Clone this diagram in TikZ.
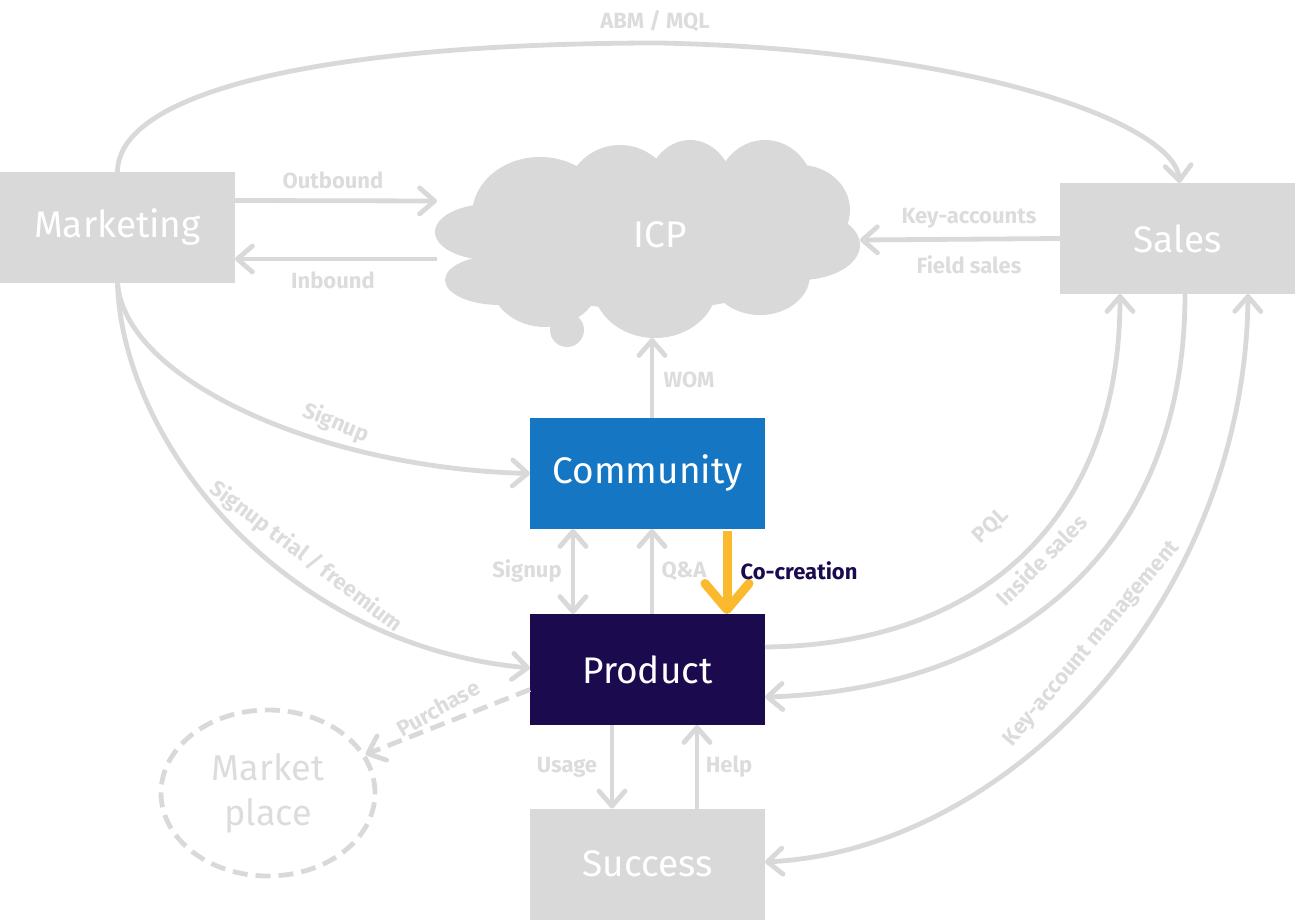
\documentclass[tikz,border=0pt]{standalone}
\usepackage{fontspec}
\setmainfont{Fira Sans}
\usetikzlibrary{arrows.meta,calc,shapes.geometric}
\definecolor{boxgrey}{HTML}{D9D9D9}
\definecolor{linegrey}{HTML}{D9D9D9}
\definecolor{labgrey}{HTML}{DCDCDC}
\definecolor{combl}{HTML}{1576C4}
\definecolor{prodnavy}{HTML}{1C0A4F}
\definecolor{cocol}{HTML}{FBBA2D}
\begin{document}
\begin{tikzpicture}[x=1pt,y=-1pt,
  box/.style={rectangle, minimum width=235pt, minimum height=111pt, inner sep=0pt, outer sep=0pt, text=white, font=\fontsize{37}{40}\selectfont},
  barb/.tip={Straight Barb[length=15pt,width=26pt,round]},
  conn/.style={draw=linegrey, line width=4.8pt, -barb},
  lab/.style={text=labgrey, font=\bfseries\fontsize{22}{24}\selectfont, inner sep=0pt},
]
\useasboundingbox (0,0) rectangle (1295,920);

% cloud
\begin{scope}[fill=boxgrey]
  \fill (490,232) ellipse [x radius=55, y radius=28];
  \fill (500,280) ellipse [x radius=55, y radius=25];
  \fill (540,215) ellipse [x radius=68, y radius=58];
  \fill (620,200) ellipse [x radius=55, y radius=55];
  \fill (690,195) ellipse [x radius=45, y radius=55];
  \fill (765,195) ellipse [x radius=50, y radius=55];
  \fill (800,210) ellipse [x radius=50, y radius=45];
  \fill (800,245) ellipse [x radius=60, y radius=35];
  \fill (760,275) ellipse [x radius=50, y radius=40];
  \fill (655,285) ellipse [x radius=62, y radius=53];
  \fill (545,280) ellipse [x radius=55, y radius=47];
  \fill (567,330) circle [radius=17];
  \fill (650,240) ellipse [x radius=170, y radius=70];
\end{scope}
\node[text=white, font=\fontsize{37}{40}\selectfont, inner sep=0pt] (icp) at (660,235) {ICP};
\coordinate (icpin) at (437,201);
\coordinate (icpout) at (437,259);
\coordinate (icpR) at (860,240);
\coordinate (icpB) at (652,338);

% boxes
\node[box, fill=boxgrey] (mkt) at (117.5,227.5) {Marketing};
\node[box, fill=boxgrey] (sales) at (1177.5,238.5) {Sales};
\node[box, fill=combl] (com) at (647.5,473.5) {Community};
\node[box, fill=prodnavy] (prod) at (647.5,669.5) {Product};
\node[box, fill=boxgrey] (succ) at (647.5,864) {Success};
\node[ellipse, draw=linegrey, line width=4.8pt, dash pattern=on 15pt off 8pt,
      minimum width=214pt, minimum height=166pt, inner sep=0pt, text=labgrey,
      align=center, font=\fontsize{36}{45}\selectfont] (mp) at (268,793) {Market\\place};

% connectors
\draw[conn] (mkt.north) .. controls (118,90) and (330,43) .. (660,43)
   .. controls (980,50) and (1175,125) .. ($(sales.north)+(2,0)$);
\draw[conn] ($(mkt.east)+(0,-27)$) -- (icpin);
\draw[conn] (icpout) -- ($(mkt.east)+(0,31.5)$);
\draw[conn] (sales.west) -- (icpR);
\draw[conn] ($(com.north)+(4.5,0)$) -- (icpB);
\draw[conn] (mkt.south) .. controls (125,380) and (320,468) .. (com.west);
\draw[conn] (mkt.south) .. controls (122,440) and (280,645) .. ($(prod.west)+(0,-1.5)$);
\draw[conn, barb-barb] ($(com.south)+(-74.5,0)$) -- ($(prod.north)+(-74.5,0)$);
\draw[conn] ($(prod.north)+(4.5,0)$) -- ($(com.south)+(4.5,0)$);
\draw[draw=cocol, line width=9pt, -{Straight Barb[length=26pt,width=44pt,round]}]
   ($(com.south)+(79.5,2)$) -- ($(prod.north)+(79.5,0)$);
\draw[conn] ($(prod.east)+(0,-22.5)$) .. controls (980,645) and (1120,520) .. ($(sales.south)+(-57.5,0)$);
\draw[conn] ($(sales.south)+(7.5,0)$) .. controls (1185,560) and (1000,690) .. ($(prod.east)+(0,27.5)$);
\draw[conn, barb-barb] ($(sales.south)+(70.5,0)$) .. controls (1245,600) and (1010,850) .. ($(succ.east)+(0,-2)$);
\draw[conn, dash pattern=on 15pt off 8pt] ($(prod.west)+(0,20)$) -- (mp);
\draw[conn] ($(prod.south)+(-35.5,0)$) -- ($(succ.north)+(-35.5,0)$);
\draw[conn] ($(succ.north)+(49.5,0)$) -- ($(prod.south)+(49.5,0)$);

% labels
\node[lab] (l1) at (655,21) {ABM / MQL};
\node[lab] (l2) at (333,180) {Outbound};
\node[lab] (l3) at (333,280) {Inbound};
\node[lab] (l4) at (969,218) {Key-accounts};
\node[lab] (l5) at (969,265) {Field sales};
\node[lab] (l6) at (689,380) {WOM};
\node[lab, rotate=-22] (l7) at (336,423) {Signup};
\node[lab, rotate=-37] (l8) at (306,557) {Signup trial / freemium};
\node[lab] (l9) at (527,571) {Signup};
\node[lab] (l10) at (684,571) {Q\&A};
\node[lab, text=prodnavy] (l11) at (799,571) {Co-creation};
\node[lab, rotate=43] (l12) at (991,526) {PQL};
\node[lab, rotate=45] (l13) at (1041,560) {Inside sales};
\node[lab, rotate=50] (l14) at (1092,644) {Key-account management};
\node[lab, rotate=29] (l15) at (438,708) {Purchase};
\node[lab] (l16) at (567,767) {Usage};
\node[lab] (l17) at (729,767) {Help};
\end{tikzpicture}
\end{document}
